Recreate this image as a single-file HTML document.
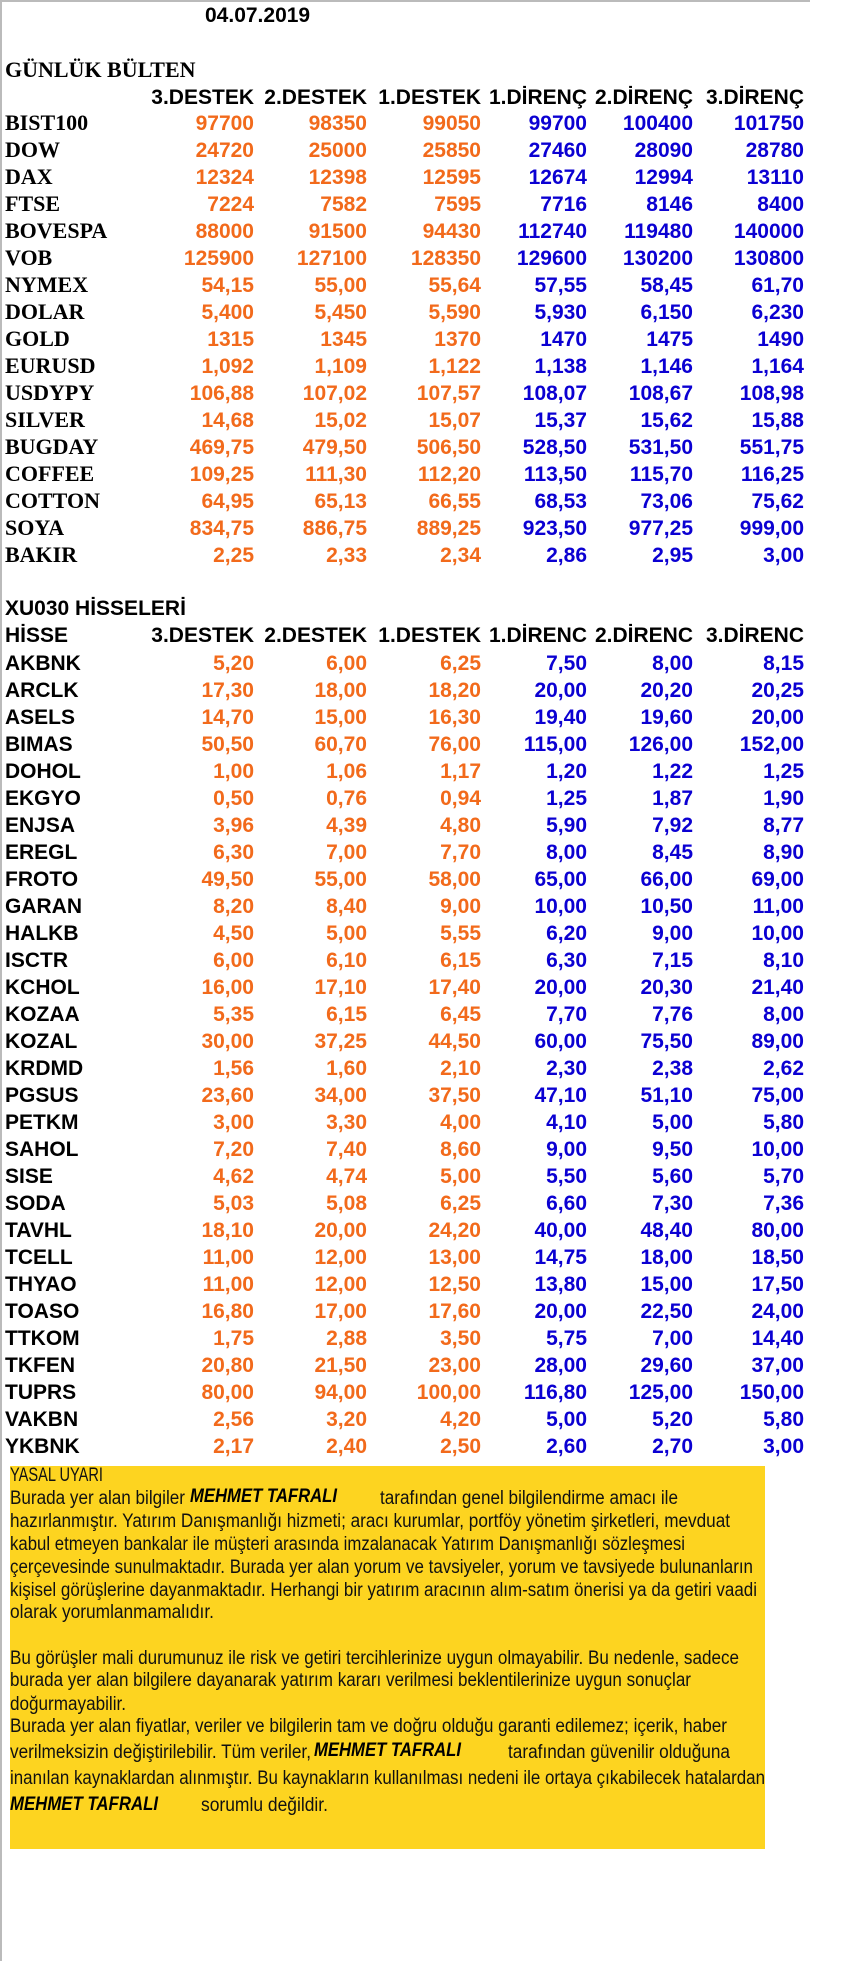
<!DOCTYPE html>
<html><head><meta charset="utf-8"><style>
html,body{margin:0;padding:0;background:#fff;}
svg{display:block}
.s{font-family:"Liberation Sans",sans-serif;font-weight:bold;font-size:21px}
.t{font-family:"Liberation Serif",serif;font-weight:bold;font-size:22px}
.o{fill:#F26A1B}.b{fill:#0B00D2}
.d{font-family:"Liberation Sans",sans-serif;font-size:19px;fill:#111}
.m{font-family:"Liberation Sans",sans-serif;font-size:19px;font-weight:bold;font-style:italic;fill:#000}
</style></head><body>
<svg width="851" height="1961" xmlns="http://www.w3.org/2000/svg">
<rect width="851" height="1961" fill="#fff"/>
<line x1="0" y1="1" x2="810" y2="1" stroke="#bbb" stroke-width="2"/>
<line x1="1" y1="0" x2="1" y2="1961" stroke="#bbb" stroke-width="2"/>
<text x="205" y="22" class="s">04.07.2019</text>
<text x="5" y="77" class="t">GÜNLÜK BÜLTEN</text>
<g class="s" text-anchor="end">
<text x="254" y="104">3.DESTEK</text><text x="367" y="104">2.DESTEK</text><text x="481" y="104">1.DESTEK</text><text x="587" y="104">1.DİRENÇ</text><text x="693" y="104">2.DİRENÇ</text><text x="804" y="104">3.DİRENÇ</text>
</g>
<g class="t">
<text x="5" y="130">BIST100</text><text x="5" y="157">DOW</text><text x="5" y="184">DAX</text><text x="5" y="211">FTSE</text><text x="5" y="238">BOVESPA</text><text x="5" y="265">VOB</text><text x="5" y="292">NYMEX</text><text x="5" y="319">DOLAR</text><text x="5" y="346">GOLD</text><text x="5" y="373">EURUSD</text><text x="5" y="400">USDYPY</text><text x="5" y="427">SILVER</text><text x="5" y="454">BUGDAY</text><text x="5" y="481">COFFEE</text><text x="5" y="508">COTTON</text><text x="5" y="535">SOYA</text><text x="5" y="562">BAKIR</text>
</g>
<g class="s o" text-anchor="end">
<text x="254" y="130">97700</text><text x="367" y="130">98350</text><text x="481" y="130">99050</text>
<text x="254" y="157">24720</text><text x="367" y="157">25000</text><text x="481" y="157">25850</text>
<text x="254" y="184">12324</text><text x="367" y="184">12398</text><text x="481" y="184">12595</text>
<text x="254" y="211">7224</text><text x="367" y="211">7582</text><text x="481" y="211">7595</text>
<text x="254" y="238">88000</text><text x="367" y="238">91500</text><text x="481" y="238">94430</text>
<text x="254" y="265">125900</text><text x="367" y="265">127100</text><text x="481" y="265">128350</text>
<text x="254" y="292">54,15</text><text x="367" y="292">55,00</text><text x="481" y="292">55,64</text>
<text x="254" y="319">5,400</text><text x="367" y="319">5,450</text><text x="481" y="319">5,590</text>
<text x="254" y="346">1315</text><text x="367" y="346">1345</text><text x="481" y="346">1370</text>
<text x="254" y="373">1,092</text><text x="367" y="373">1,109</text><text x="481" y="373">1,122</text>
<text x="254" y="400">106,88</text><text x="367" y="400">107,02</text><text x="481" y="400">107,57</text>
<text x="254" y="427">14,68</text><text x="367" y="427">15,02</text><text x="481" y="427">15,07</text>
<text x="254" y="454">469,75</text><text x="367" y="454">479,50</text><text x="481" y="454">506,50</text>
<text x="254" y="481">109,25</text><text x="367" y="481">111,30</text><text x="481" y="481">112,20</text>
<text x="254" y="508">64,95</text><text x="367" y="508">65,13</text><text x="481" y="508">66,55</text>
<text x="254" y="535">834,75</text><text x="367" y="535">886,75</text><text x="481" y="535">889,25</text>
<text x="254" y="562">2,25</text><text x="367" y="562">2,33</text><text x="481" y="562">2,34</text>
</g>
<g class="s b" text-anchor="end">
<text x="587" y="130">99700</text><text x="693" y="130">100400</text><text x="804" y="130">101750</text>
<text x="587" y="157">27460</text><text x="693" y="157">28090</text><text x="804" y="157">28780</text>
<text x="587" y="184">12674</text><text x="693" y="184">12994</text><text x="804" y="184">13110</text>
<text x="587" y="211">7716</text><text x="693" y="211">8146</text><text x="804" y="211">8400</text>
<text x="587" y="238">112740</text><text x="693" y="238">119480</text><text x="804" y="238">140000</text>
<text x="587" y="265">129600</text><text x="693" y="265">130200</text><text x="804" y="265">130800</text>
<text x="587" y="292">57,55</text><text x="693" y="292">58,45</text><text x="804" y="292">61,70</text>
<text x="587" y="319">5,930</text><text x="693" y="319">6,150</text><text x="804" y="319">6,230</text>
<text x="587" y="346">1470</text><text x="693" y="346">1475</text><text x="804" y="346">1490</text>
<text x="587" y="373">1,138</text><text x="693" y="373">1,146</text><text x="804" y="373">1,164</text>
<text x="587" y="400">108,07</text><text x="693" y="400">108,67</text><text x="804" y="400">108,98</text>
<text x="587" y="427">15,37</text><text x="693" y="427">15,62</text><text x="804" y="427">15,88</text>
<text x="587" y="454">528,50</text><text x="693" y="454">531,50</text><text x="804" y="454">551,75</text>
<text x="587" y="481">113,50</text><text x="693" y="481">115,70</text><text x="804" y="481">116,25</text>
<text x="587" y="508">68,53</text><text x="693" y="508">73,06</text><text x="804" y="508">75,62</text>
<text x="587" y="535">923,50</text><text x="693" y="535">977,25</text><text x="804" y="535">999,00</text>
<text x="587" y="562">2,86</text><text x="693" y="562">2,95</text><text x="804" y="562">3,00</text>
</g>
<text x="5" y="615" class="s">XU030 HİSSELERİ</text>
<text x="5" y="642" class="s">HİSSE</text>
<g class="s" text-anchor="end">
<text x="254" y="642">3.DESTEK</text><text x="367" y="642">2.DESTEK</text><text x="481" y="642">1.DESTEK</text><text x="587" y="642">1.DİRENC</text><text x="693" y="642">2.DİRENC</text><text x="804" y="642">3.DİRENC</text>
</g>
<g class="s">
<text x="5" y="670">AKBNK</text><text x="5" y="697">ARCLK</text><text x="5" y="724">ASELS</text><text x="5" y="751">BIMAS</text><text x="5" y="778">DOHOL</text><text x="5" y="805">EKGYO</text><text x="5" y="832">ENJSA</text><text x="5" y="859">EREGL</text><text x="5" y="886">FROTO</text><text x="5" y="913">GARAN</text><text x="5" y="940">HALKB</text><text x="5" y="967">ISCTR</text><text x="5" y="994">KCHOL</text><text x="5" y="1021">KOZAA</text><text x="5" y="1048">KOZAL</text><text x="5" y="1075">KRDMD</text><text x="5" y="1102">PGSUS</text><text x="5" y="1129">PETKM</text><text x="5" y="1156">SAHOL</text><text x="5" y="1183">SISE</text><text x="5" y="1210">SODA</text><text x="5" y="1237">TAVHL</text><text x="5" y="1264">TCELL</text><text x="5" y="1291">THYAO</text><text x="5" y="1318">TOASO</text><text x="5" y="1345">TTKOM</text><text x="5" y="1372">TKFEN</text><text x="5" y="1399">TUPRS</text><text x="5" y="1426">VAKBN</text><text x="5" y="1453">YKBNK</text>
</g>
<g class="s o" text-anchor="end">
<text x="254" y="670">5,20</text><text x="367" y="670">6,00</text><text x="481" y="670">6,25</text>
<text x="254" y="697">17,30</text><text x="367" y="697">18,00</text><text x="481" y="697">18,20</text>
<text x="254" y="724">14,70</text><text x="367" y="724">15,00</text><text x="481" y="724">16,30</text>
<text x="254" y="751">50,50</text><text x="367" y="751">60,70</text><text x="481" y="751">76,00</text>
<text x="254" y="778">1,00</text><text x="367" y="778">1,06</text><text x="481" y="778">1,17</text>
<text x="254" y="805">0,50</text><text x="367" y="805">0,76</text><text x="481" y="805">0,94</text>
<text x="254" y="832">3,96</text><text x="367" y="832">4,39</text><text x="481" y="832">4,80</text>
<text x="254" y="859">6,30</text><text x="367" y="859">7,00</text><text x="481" y="859">7,70</text>
<text x="254" y="886">49,50</text><text x="367" y="886">55,00</text><text x="481" y="886">58,00</text>
<text x="254" y="913">8,20</text><text x="367" y="913">8,40</text><text x="481" y="913">9,00</text>
<text x="254" y="940">4,50</text><text x="367" y="940">5,00</text><text x="481" y="940">5,55</text>
<text x="254" y="967">6,00</text><text x="367" y="967">6,10</text><text x="481" y="967">6,15</text>
<text x="254" y="994">16,00</text><text x="367" y="994">17,10</text><text x="481" y="994">17,40</text>
<text x="254" y="1021">5,35</text><text x="367" y="1021">6,15</text><text x="481" y="1021">6,45</text>
<text x="254" y="1048">30,00</text><text x="367" y="1048">37,25</text><text x="481" y="1048">44,50</text>
<text x="254" y="1075">1,56</text><text x="367" y="1075">1,60</text><text x="481" y="1075">2,10</text>
<text x="254" y="1102">23,60</text><text x="367" y="1102">34,00</text><text x="481" y="1102">37,50</text>
<text x="254" y="1129">3,00</text><text x="367" y="1129">3,30</text><text x="481" y="1129">4,00</text>
<text x="254" y="1156">7,20</text><text x="367" y="1156">7,40</text><text x="481" y="1156">8,60</text>
<text x="254" y="1183">4,62</text><text x="367" y="1183">4,74</text><text x="481" y="1183">5,00</text>
<text x="254" y="1210">5,03</text><text x="367" y="1210">5,08</text><text x="481" y="1210">6,25</text>
<text x="254" y="1237">18,10</text><text x="367" y="1237">20,00</text><text x="481" y="1237">24,20</text>
<text x="254" y="1264">11,00</text><text x="367" y="1264">12,00</text><text x="481" y="1264">13,00</text>
<text x="254" y="1291">11,00</text><text x="367" y="1291">12,00</text><text x="481" y="1291">12,50</text>
<text x="254" y="1318">16,80</text><text x="367" y="1318">17,00</text><text x="481" y="1318">17,60</text>
<text x="254" y="1345">1,75</text><text x="367" y="1345">2,88</text><text x="481" y="1345">3,50</text>
<text x="254" y="1372">20,80</text><text x="367" y="1372">21,50</text><text x="481" y="1372">23,00</text>
<text x="254" y="1399">80,00</text><text x="367" y="1399">94,00</text><text x="481" y="1399">100,00</text>
<text x="254" y="1426">2,56</text><text x="367" y="1426">3,20</text><text x="481" y="1426">4,20</text>
<text x="254" y="1453">2,17</text><text x="367" y="1453">2,40</text><text x="481" y="1453">2,50</text>
</g>
<g class="s b" text-anchor="end">
<text x="587" y="670">7,50</text><text x="693" y="670">8,00</text><text x="804" y="670">8,15</text>
<text x="587" y="697">20,00</text><text x="693" y="697">20,20</text><text x="804" y="697">20,25</text>
<text x="587" y="724">19,40</text><text x="693" y="724">19,60</text><text x="804" y="724">20,00</text>
<text x="587" y="751">115,00</text><text x="693" y="751">126,00</text><text x="804" y="751">152,00</text>
<text x="587" y="778">1,20</text><text x="693" y="778">1,22</text><text x="804" y="778">1,25</text>
<text x="587" y="805">1,25</text><text x="693" y="805">1,87</text><text x="804" y="805">1,90</text>
<text x="587" y="832">5,90</text><text x="693" y="832">7,92</text><text x="804" y="832">8,77</text>
<text x="587" y="859">8,00</text><text x="693" y="859">8,45</text><text x="804" y="859">8,90</text>
<text x="587" y="886">65,00</text><text x="693" y="886">66,00</text><text x="804" y="886">69,00</text>
<text x="587" y="913">10,00</text><text x="693" y="913">10,50</text><text x="804" y="913">11,00</text>
<text x="587" y="940">6,20</text><text x="693" y="940">9,00</text><text x="804" y="940">10,00</text>
<text x="587" y="967">6,30</text><text x="693" y="967">7,15</text><text x="804" y="967">8,10</text>
<text x="587" y="994">20,00</text><text x="693" y="994">20,30</text><text x="804" y="994">21,40</text>
<text x="587" y="1021">7,70</text><text x="693" y="1021">7,76</text><text x="804" y="1021">8,00</text>
<text x="587" y="1048">60,00</text><text x="693" y="1048">75,50</text><text x="804" y="1048">89,00</text>
<text x="587" y="1075">2,30</text><text x="693" y="1075">2,38</text><text x="804" y="1075">2,62</text>
<text x="587" y="1102">47,10</text><text x="693" y="1102">51,10</text><text x="804" y="1102">75,00</text>
<text x="587" y="1129">4,10</text><text x="693" y="1129">5,00</text><text x="804" y="1129">5,80</text>
<text x="587" y="1156">9,00</text><text x="693" y="1156">9,50</text><text x="804" y="1156">10,00</text>
<text x="587" y="1183">5,50</text><text x="693" y="1183">5,60</text><text x="804" y="1183">5,70</text>
<text x="587" y="1210">6,60</text><text x="693" y="1210">7,30</text><text x="804" y="1210">7,36</text>
<text x="587" y="1237">40,00</text><text x="693" y="1237">48,40</text><text x="804" y="1237">80,00</text>
<text x="587" y="1264">14,75</text><text x="693" y="1264">18,00</text><text x="804" y="1264">18,50</text>
<text x="587" y="1291">13,80</text><text x="693" y="1291">15,00</text><text x="804" y="1291">17,50</text>
<text x="587" y="1318">20,00</text><text x="693" y="1318">22,50</text><text x="804" y="1318">24,00</text>
<text x="587" y="1345">5,75</text><text x="693" y="1345">7,00</text><text x="804" y="1345">14,40</text>
<text x="587" y="1372">28,00</text><text x="693" y="1372">29,60</text><text x="804" y="1372">37,00</text>
<text x="587" y="1399">116,80</text><text x="693" y="1399">125,00</text><text x="804" y="1399">150,00</text>
<text x="587" y="1426">5,00</text><text x="693" y="1426">5,20</text><text x="804" y="1426">5,80</text>
<text x="587" y="1453">2,60</text><text x="693" y="1453">2,70</text><text x="804" y="1453">3,00</text>
</g>
<rect x="10" y="1466" width="755" height="383" fill="#FDD420"/>
<g class="d">
<text x="10" y="1481" textLength="93" lengthAdjust="spacingAndGlyphs">YASAL UYARI</text>
<text x="10" y="1504" textLength="175" lengthAdjust="spacingAndGlyphs">Burada yer alan bilgiler</text>
<text x="190" y="1502" class="m" textLength="147" lengthAdjust="spacingAndGlyphs">MEHMET TAFRALI</text>
<text x="380" y="1504" textLength="298" lengthAdjust="spacingAndGlyphs">tarafından genel bilgilendirme amacı ile</text>
<text x="10" y="1527" textLength="720" lengthAdjust="spacingAndGlyphs">hazırlanmıştır. Yatırım Danışmanlığı hizmeti; aracı kurumlar, portföy yönetim şirketleri, mevduat</text>
<text x="10" y="1550" textLength="675" lengthAdjust="spacingAndGlyphs">kabul etmeyen bankalar ile müşteri arasında imzalanacak Yatırım Danışmanlığı sözleşmesi</text>
<text x="10" y="1573" textLength="743" lengthAdjust="spacingAndGlyphs">çerçevesinde sunulmaktadır. Burada yer alan yorum ve tavsiyeler, yorum ve tavsiyede bulunanların</text>
<text x="10" y="1596" textLength="747" lengthAdjust="spacingAndGlyphs">kişisel görüşlerine dayanmaktadır. Herhangi bir yatırım aracının alım-satım önerisi ya da getiri vaadi</text>
<text x="10" y="1618" textLength="204" lengthAdjust="spacingAndGlyphs">olarak yorumlanmamalıdır.</text>
<text x="10" y="1664" textLength="729" lengthAdjust="spacingAndGlyphs">Bu görüşler mali durumunuz ile risk ve getiri tercihlerinize uygun olmayabilir. Bu nedenle, sadece</text>
<text x="10" y="1686" textLength="681" lengthAdjust="spacingAndGlyphs">burada yer alan bilgilere dayanarak yatırım kararı verilmesi beklentilerinize uygun sonuçlar</text>
<text x="10" y="1710" textLength="116" lengthAdjust="spacingAndGlyphs">doğurmayabilir.</text>
<text x="10" y="1732" textLength="717" lengthAdjust="spacingAndGlyphs">Burada yer alan fiyatlar, veriler ve bilgilerin tam ve doğru olduğu garanti edilemez; içerik, haber</text>
<text x="10" y="1758" textLength="301" lengthAdjust="spacingAndGlyphs">verilmeksizin değiştirilebilir. Tüm veriler,</text>
<text x="314" y="1756" class="m" textLength="147" lengthAdjust="spacingAndGlyphs">MEHMET TAFRALI</text>
<text x="508" y="1758" textLength="222" lengthAdjust="spacingAndGlyphs">tarafından güvenilir olduğuna</text>
<text x="10" y="1784" textLength="755" lengthAdjust="spacingAndGlyphs">inanılan kaynaklardan alınmıştır. Bu kaynakların kullanılması nedeni ile ortaya çıkabilecek hatalardan</text>
<text x="10" y="1810" class="m" textLength="148" lengthAdjust="spacingAndGlyphs">MEHMET TAFRALI</text>
<text x="201" y="1811" textLength="127" lengthAdjust="spacingAndGlyphs">sorumlu değildir.</text>
</g>
</svg>
</body></html>
